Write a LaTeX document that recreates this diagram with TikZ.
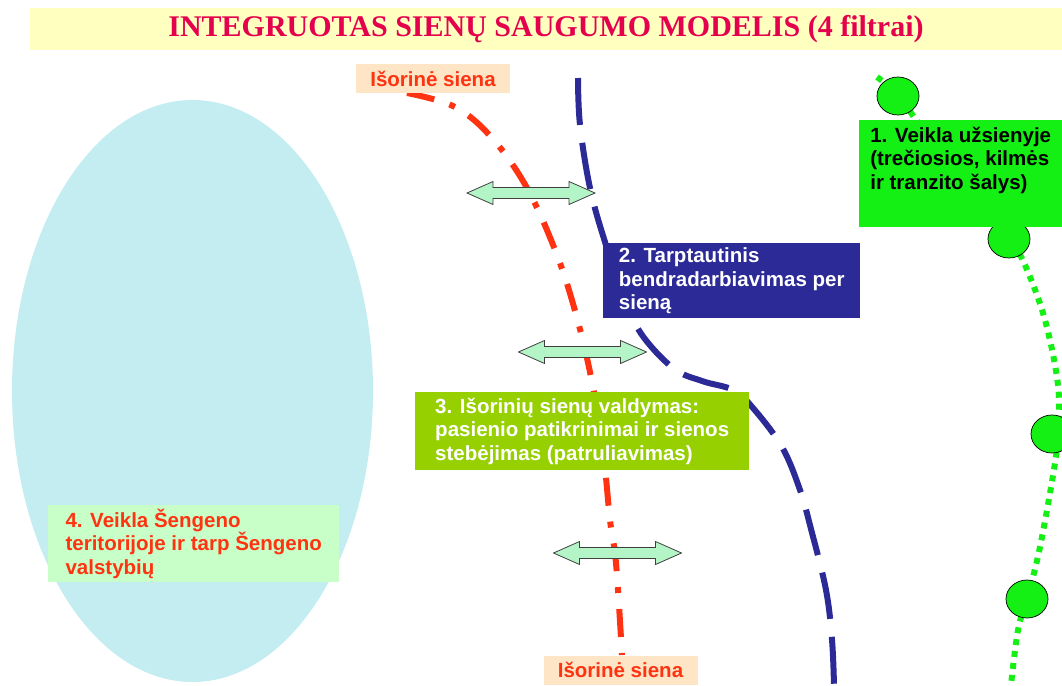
\documentclass[tikz,border=0pt]{standalone}
\usepackage{fontspec}
\setmainfont{Liberation Sans}
\newfontfamily\headfont{Liberation Serif}

\definecolor{bandyellow}{RGB}{255,255,192}
\definecolor{headred}{RGB}{228,0,76}
\definecolor{wallred}{RGB}{255,51,17}
\definecolor{peach}{RGB}{253,229,197}
\definecolor{navybox}{RGB}{44,42,150}
\definecolor{ballgreen}{RGB}{20,240,20}
\definecolor{olivebox}{RGB}{150,208,0}
\definecolor{mintbox}{RGB}{200,255,200}
\definecolor{skyoval}{RGB}{195,237,241}
\definecolor{arrowmint}{RGB}{180,245,200}

\tikzset{
  wallbox/.style={fill=peach, text=wallred, minimum width=154pt, minimum height=29pt, inner sep=0pt},
  filter/.style={align=left, anchor=north west, inner xsep=11pt, inner ysep=0pt},
  twoway/.pic={
    \draw[fill=arrowmint, draw=black!75, line width=0.8pt]
      (-64,0) -- (-38,-11.5) -- (-38,-5.5) -- (38,-5.5) -- (38,-11.5) -- (64,0)
      -- (38,11.5) -- (38,5.5) -- (-38,5.5) -- (-38,11.5) -- cycle;
  }
}

\begin{document}
\begin{tikzpicture}[x=1pt, y=-1pt, font=\bfseries\fontsize{20.5}{23.5}\selectfont]

\useasboundingbox (0,0) rectangle (1062,685);

% title
\node[fill=bandyellow, minimum width=1032pt, minimum height=42pt, inner sep=0pt,
  text=headred, font=\headfont\bfseries\fontsize{30}{32}\selectfont]
  (title) at (546,29) {INTEGRUOTAS SIENŲ SAUGUMO MODELIS (4 filtrai)};

% Schengen area
\fill[skyoval] (192.5,391) ellipse [x radius=180.5pt, y radius=291pt];

% walls
\begin{scope}[line width=6pt]
\draw[wallred, dash pattern=on 28pt off 16pt on 6pt off 16pt]
  plot[smooth, tension=0.6] coordinates {(407,93) (455,107) (492,138) (527,188) (557,255)
  (577,318) (592,382) (603,450) (610,520) (616,563) (622,655)};
\draw[navybox, dash pattern=on 47pt off 18pt]
  plot[smooth, tension=0.6] coordinates {(578,78) (580,125) (590,188) (605,242) (622,290)
  (640,332) (673,368) (702,381) (733,390) (753,408) (782,447) (800,490) (811,529)
  (826,590) (832,640) (834,685)};
\draw[ballgreen, dash pattern=on 6pt off 6pt]
  plot[smooth, tension=0.6] coordinates {(877,77) (898,95) (920,125) (955,165) (983,203)
  (1009,238) (1025,265) (1045,320) (1058,385) (1058,430) (1055,463) (1040,547)
  (1027,599) (1018,630) (1011,685)};
\end{scope}

\foreach \cx/\cy in {898/96, 1009/239, 1052/434, 1027/599}
  \filldraw[fill=ballgreen, draw=black, line width=0.7pt] (\cx,\cy) ellipse [x radius=21pt, y radius=19pt];

% filters
\node[filter, fill=ballgreen, minimum width=203pt] (f1) at (859,120)
  {\rule{0pt}{22pt}1. Veikla užsienyje\\(trečiosios, kilmės\\ir tranzito šalys)\rule[-38pt]{0pt}{0pt}};
\node[filter, fill=navybox, text=white, minimum width=257pt, minimum height=75pt] (f2) at (603,243)
  {2. Tarptautinis\\bendradarbiavimas per\\sieną};
\node[filter, fill=olivebox, text=white, minimum width=334pt, minimum height=78pt] (f3) at (415,392)
  {3. Išorinių sienų valdymas:\\pasienio patikrinimai ir sienos\\stebėjimas (patruliavimas)};
\node[filter, fill=mintbox, text=wallred, minimum width=291pt, minimum height=77pt] (f4) at (48,505)
  {4. Veikla Šengeno\\teritorijoje ir tarp Šengeno\\valstybių};

% cooperation arrows
\pic (a1) at (531,193) {twoway};
\pic (a2) at (582.5,352) {twoway};
\pic (a3) at (617.5,553) {twoway};

\node[wallbox] (wtop) at (433,78.5) {Išorinė siena};
\node[wallbox] (wbot) at (620.5,670) {Išorinė siena};

\end{tikzpicture}
\end{document}
